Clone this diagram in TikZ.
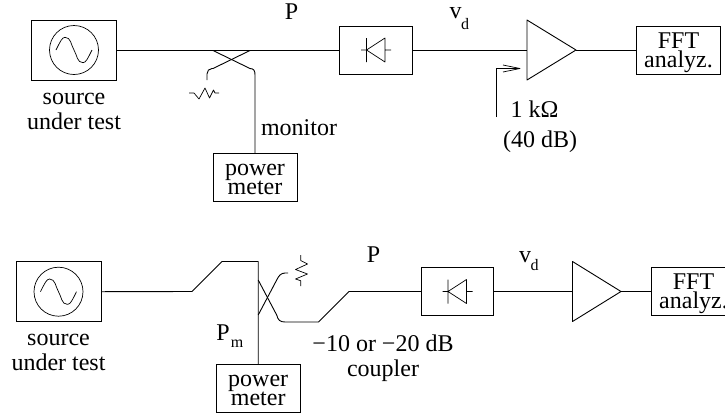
\documentclass[tikz,border=0pt]{standalone}
\usepackage{fontspec}
\setmainfont{Liberation Serif}
\tikzset{
  wire/.style={line width=0.9pt,line join=round},
  thin wire/.style={line width=0.7pt,line join=round},
  box/.style={draw,line width=0.9pt,inner sep=0pt,align=center,font=\fontsize{24}{19}\selectfont},
  srcbox/.style={box,minimum width=85pt,minimum height=60pt},
  midbox/.style={box,minimum width=84pt,minimum height=48pt,text height=34pt,text depth=0pt},
  detbox/.style={box,minimum width=72.5pt,minimum height=48pt},
  osc/.style={circle,draw,line width=0.7pt,inner sep=0pt,minimum size=49pt},
  lab/.style={inner sep=0pt,anchor=base,font=\fontsize{24}{24}\selectfont},
  sub/.style={inner sep=0pt,anchor=base,font=\fontsize{16}{16}\selectfont},
  two/.style={inner sep=0pt,anchor=base,align=center,font=\fontsize{24}{24.5}\selectfont},
}
\newcommand{\sine}[1]{%
  \begin{scope}[shift={(#1.center)}]
  \draw[thin wire] (-18,0) .. controls (-14,-8) and (-12,-12.7) .. (-9,-12.7)
     .. controls (-3,-12.7) and (-3,-5) .. (0,0)
     .. controls (3,5) and (3,12.7) .. (9,12.7)
     .. controls (12,12.7) and (14,8) .. (18,0);
  \end{scope}}
\newcommand{\diode}[1]{%
  \begin{scope}[shift={(#1.center)}]
  \draw[thin wire] (-15,0) -- (-9.5,0) (-9.5,-12) -- (-9.5,12)
    (-9.5,0) -- (9,-12) -- (9,12) -- cycle (9,0) -- (15,0);
  \end{scope}}
\begin{document}
\begin{tikzpicture}[x=1pt,y=-1pt]
\useasboundingbox (0,0) rectangle (725,416);
% --- top chain
\node[srcbox] (src1) at (74,50) {};
\node[osc] (osc1) at (74,50) {};
\sine{osc1}
\node[detbox] (det1) at (376,50) {};
\diode{det1}
\node[midbox] (fft1) at (678.5,50) {FFT\\analyz.};
\node[midbox] (pm1) at (255,177.5) {power\\meter};
\coordinate (a1w) at (527,50);
\coordinate (a1a) at (527,20);
\coordinate (a1b) at (527,80);
\coordinate (a1e) at (576,50);
\draw[wire] (a1a) -- (a1e) -- (a1b) -- cycle;
\coordinate (c1a) at (213,50.5);
\coordinate (c1b) at (250,50.5);
\coordinate (c1c) at (213,68.5);
\coordinate (c1d) at (250,68.5);
\coordinate (r1) at (207,80);
\draw[wire] (src1.east |- osc1) -- (det1.west);
\draw[wire] (det1.east) -- (a1w);
\draw[wire] (a1e) -- (fft1.west);
\draw[wire] (c1a) -- (c1d) .. controls (254,68.5) and (255,71) .. (255,75) -- (pm1.north);
\draw[wire] (c1b) -- (c1c) -- (212,68.5) .. controls (209,68.5) and (207,71) .. (207,74) -- (r1);
\draw[thin wire] (189,93) -- (194,93) -- (199,99) -- (205,88) -- (209.5,98) -- (213.5,90) -- (215,93) -- (219,93);
\coordinate (ar1) at (496.5,117);
\coordinate (ar2) at (496.5,68.5);
\coordinate (ar3) at (520,68.5);
\draw[wire] (ar1) -- (ar2) -- (ar3);
\draw[thin wire] (503,65) -- (ar3) -- (503,72);
\node[two] (src1t) at (74,129) {source\\under test};
\node[lab] (p1) at (291.5,19) {P};
\node[lab] (v1) at (455.5,18) {v};
\node[sub] (d1) at (465,29) {d};
\node[lab] (mon) at (299,135) {monitor};
\node[lab] (k1) at (534.5,117) {1 kΩ};
\node[lab] (db1) at (540,147) {(40 dB)};
% --- bottom chain
\node[srcbox] (src2) at (58.5,291.7) {};
\node[osc] (osc2) at (58.5,291.7) {};
\sine{osc2}
\node[detbox] (det2) at (457.5,291.5) {};
\diode{det2}
\node[midbox] (fft2) at (693.5,291.5) {FFT\\analyz.};
\node[midbox] (pm2) at (258.2,388.3) {power\\meter};
\coordinate (a2w) at (572.5,291.5);
\coordinate (a2a) at (572.5,261.5);
\coordinate (a2b) at (572.5,321.5);
\coordinate (a2e) at (621,291.5);
\draw[wire] (a2a) -- (a2e) -- (a2b) -- cycle;
\coordinate (k1a) at (192,291.5);
\coordinate (k1b) at (222,261.5);
\coordinate (k1c) at (258.2,261.5);
\coordinate (k2a) at (318.5,322);
\coordinate (k2b) at (349,291.5);
\coordinate (c2a) at (258.2,280);
\coordinate (c2b) at (258.2,315);
\coordinate (c2c) at (276.7,280);
\coordinate (c2d) at (276.7,315);
\coordinate (r2) at (288,273);
\draw[wire] (src2.east |- osc2) -- (k1a) -- (k1b) -- (k1c) -- (pm2.north);
\draw[wire] (c2a) -- (c2d) .. controls (278,320) and (280,322) .. (285,322) -- (k2a) -- (k2b) -- (det2.west);
\draw[wire] (c2b) -- (c2c) .. controls (278.5,276) and (281,273) .. (285,273) -- (r2);
\draw[wire] (det2.east) -- (a2w);
\draw[wire] (a2e) -- (fft2.west);
\draw[thin wire] (300.7,255) -- (300.7,260.5) -- (307.5,264) -- (295.5,269.5) -- (307.5,274) -- (295.5,279) -- (300.7,280.7) -- (300.7,286);
\node[two] (src2t) at (58.5,370) {source\\under test};
\node[lab] (p2) at (373.5,262) {P};
\node[lab] (v2) at (525,262) {v};
\node[sub] (d2) at (534.5,270) {d};
\node[lab] (p3) at (223,340) {P};
\node[sub] (m3) at (237,347) {m};
\node[two] (cpl) at (383,376) {−10 or −20 dB\\coupler};
\end{tikzpicture}
\end{document}
